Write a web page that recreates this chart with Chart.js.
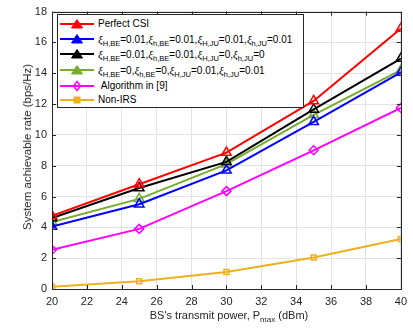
<!DOCTYPE html>
<html><head><meta charset="utf-8">
<script src="https://cdn.jsdelivr.net/npm/chart.js@4/dist/chart.umd.min.js"></script>
<style>
html,body{margin:0;padding:0;background:#fff;}
#wrap{position:relative;width:413px;height:328px;font-family:"Liberation Sans",Arial,sans-serif;}
canvas{position:absolute;left:0;top:0;}
.ax{position:absolute;font-size:11px;color:#262626;white-space:nowrap;}
.ax sub{font-size:8px;vertical-align:-3px;line-height:0;}
#legend{position:absolute;left:57px;top:14px;width:245px;height:92px;border:1px solid #262626;background:#fff;font-size:10px;color:#000;}
.row{position:absolute;left:0;height:15px;display:flex;align-items:center;white-space:nowrap;}
.row svg{margin-left:2px;margin-right:4px;}
.row sub{font-size:7.5px;vertical-align:-3px;line-height:0;}
.row i{font-family:"Liberation Serif",serif;font-size:11px;}
</style></head>
<body><div id="wrap"><canvas id="c" width="413" height="328"></canvas>
<div id="legend"></div>
<div class="ax" id="ylab" style="left:27px;top:147px;font-size:11.5px;transform:translate(-50%,-50%) rotate(-90deg);">System achievable rate (bps/Hz)</div>
<div class="ax" id="xlab" style="left:229px;top:315px;transform:translate(-50%,-50%);">BS's transmit power, P<sub>max</sub> (dBm)</div>
</div>
<script>
const xValues=[20,25,30,35,40];
const perfectCSI=[4.75,6.8,8.85,12.2,16.9];
const errAll=[4.05,5.5,7.7,10.85,14.05];
const errBE=[4.6,6.55,8.25,11.65,14.95];
const errJU=[4.35,5.85,8.1,11.3,14.2];
const alg9=[2.55,3.9,6.35,9.0,11.75];
const nonIRS=[0.15,0.5,1.1,2.05,3.25];
const seriesLabels=["Perfect CSI",
 "ξ_{H,BE}=0.01,ξ_{h,BE}=0.01,ξ_{H,JU}=0.01,ξ_{h,JU}=0.01",
 "ξ_{H,BE}=0.01,ξ_{h,BE}=0.01,ξ_{H,JU}=0,ξ_{h,JU}=0",
 "ξ_{H,BE}=0,ξ_{h,BE}=0,ξ_{H,JU}=0.01,ξ_{h,JU}=0.01",
 " Algorithm in [9]",
 "Non-IRS"];
const xTicks=[20,22,24,26,28,30,32,34,36,38,40];
const yTicks=[0,2,4,6,8,10,12,14,16,18];

const colors=['#ff0000','#0000ff','#000000','#77ac30','#ff00ff','#edb120'];
const styles=['triangle','triangle','triangle','triangle','rectRot','rect'];
const radii=[5.5,5.5,5.5,5.5,4.5,3.5];
const allSeries=[perfectCSI,errAll,errBE,errJU,alg9,nonIRS];

const datasets=allSeries.map((s,i)=>({
  label:seriesLabels[i],
  data:xValues.map((x,j)=>({x:x,y:s[j]})),
  borderColor:colors[i],backgroundColor:colors[i],
  borderWidth:2,pointStyle:styles[i],pointRadius:radii[i],
  pointBorderWidth:1.5,pointBackgroundColor:'rgba(0,0,0,0)',pointBorderColor:colors[i],
  tension:0
}));

const frame={id:'frame',afterDraw(ch){
  const c=ch.ctx,a=ch.chartArea;c.save();c.strokeStyle='#262626';c.lineWidth=1;
  c.strokeRect(Math.round(a.left)+0.5,Math.round(a.top)+0.5,Math.round(a.right-a.left),Math.round(a.bottom-a.top));
  const xs=ch.scales.x,ys=ch.scales.y;c.beginPath();
  xTicks.forEach(v=>{const p=Math.round(xs.getPixelForValue(v))+0.5;c.moveTo(p,a.bottom);c.lineTo(p,a.bottom-4);c.moveTo(p,a.top);c.lineTo(p,a.top+4);});
  yTicks.forEach(v=>{const p=Math.round(ys.getPixelForValue(v))+0.5;c.moveTo(a.left,p);c.lineTo(a.left+4,p);c.moveTo(a.right,p);c.lineTo(a.right-4,p);});
  c.stroke();c.restore();
}};

new Chart(document.getElementById('c'),{
  type:'line',data:{datasets},
  options:{responsive:false,animation:false,devicePixelRatio:1,
    layout:{padding:{top:9,right:5,left:0,bottom:0}},
    plugins:{legend:{display:false},tooltip:{enabled:false}},
    scales:{
      x:{type:'linear',min:20,max:40,
        afterBuildTicks(s){s.ticks=xTicks.map(v=>({value:v}));},
        afterFit(s){s.height=39;},
        grid:{color:'#e3e3e3',drawTicks:false},border:{display:false},
        ticks:{padding:6,color:'#262626',font:{family:'Liberation Sans',size:11},maxRotation:0}},
      y:{type:'linear',min:0,max:18,
        afterBuildTicks(s){s.ticks=yTicks.map(v=>({value:v}));},
        afterFit(s){s.width=52;},
        grid:{color:'#e3e3e3',drawTicks:false},border:{display:false},
        ticks:{padding:5,color:'#262626',font:{family:'Liberation Sans',size:11}}}
    }},
  plugins:[frame]
});

// legend
function toHTML(t){return t.replace(/ξ/g,'<i>ξ</i>').replace(/_\{([^}]*)\}/g,'<sub>$1</sub>').replace(/^ /,'&nbsp;');}
function swatch(i){
  const col=colors[i];let m='';
  if(styles[i]==='triangle') m=`<polygon points="17,2.5 22.5,11 11.5,11" fill="${col}" stroke="${col}"/>`;
  else if(styles[i]==='rectRot') m=`<polygon points="17,2.5 20.5,7 17,11.5 13.5,7" fill="none" stroke="${col}" stroke-width="1.5"/>`;
  else m=`<rect x="14" y="4" width="6" height="6" fill="${col}" stroke="${col}"/>`;
  return `<svg width="34" height="14" viewBox="0 0 34 14"><line x1="0" y1="7" x2="34" y2="7" stroke="${col}" stroke-width="2"/>${m}</svg>`;
}
const lg=document.getElementById('legend');
const rowTops=[1,16,31.5,47,63,77];
seriesLabels.forEach((l,i)=>{
  const d=document.createElement('div');d.className='row';d.style.top=rowTops[i]+'px';
  d.innerHTML=swatch(i)+'<span>'+toHTML(l)+'</span>';lg.appendChild(d);
});
</script></body></html>
